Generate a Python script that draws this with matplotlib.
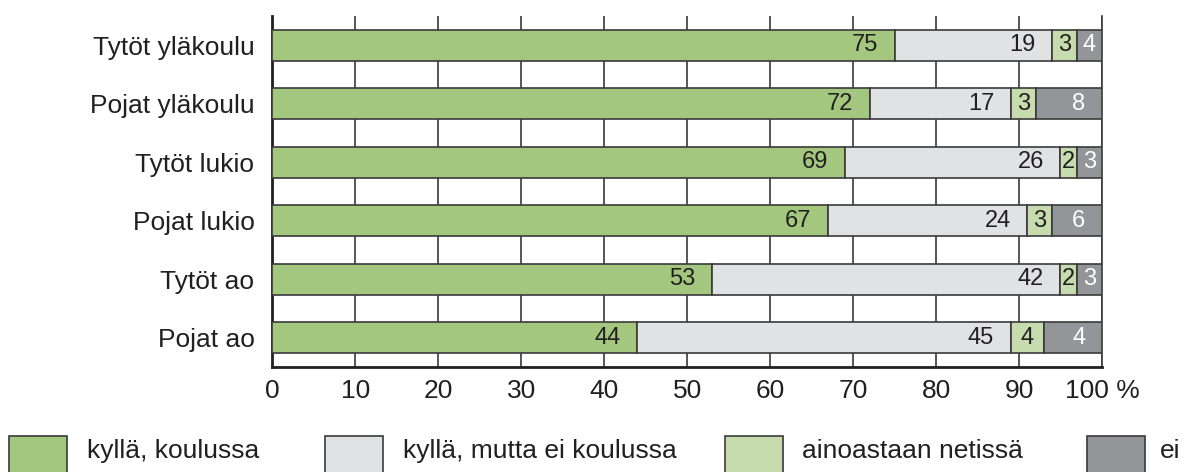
import matplotlib.pyplot as plt
from matplotlib.patches import Rectangle

plt.rcParams['font.family'] = ['Liberation Sans', 'DejaVu Sans']

groups = ["Tytöt yläkoulu", "Pojat yläkoulu", "Tytöt lukio",
          "Pojat lukio", "Tytöt ao", "Pojat ao"]
series = ["kyllä, koulussa", "kyllä, mutta ei koulussa",
          "ainoastaan netissä", "ei"]

koulussa = [75, 72, 69, 67, 53, 44]
ei_koulussa = [19, 17, 26, 24, 42, 45]
netissa = [3, 3, 2, 3, 2, 4]
ei = [4, 8, 3, 6, 3, 4]

colors = ["#a3c77f", "#e1e2e4", "#c6dcae", "#939598"]
text_colors = ["#231f20", "#231f20", "#231f20", "white"]
edge = "#3a3a3a"

fig = plt.figure(figsize=(11.83, 4.72), dpi=100)
ax = fig.add_axes([0.2303, 0.2225, 0.7012, 0.7436])

y = list(range(len(groups)))
left = [0] * len(groups)
for k, vals in enumerate([koulussa, ei_koulussa, netissa, ei]):
    # last segment ("ei") fills the bar up to 100 %
    widths = [100 - l for l in left] if k == 3 else vals
    ax.barh(y, widths, left=left, height=0.53, color=colors[k],
            edgecolor=edge, linewidth=1.2, zorder=3)
    for i in range(len(groups)):
        w = widths[i]
        if w >= 5:
            x, ha = left[i] + w - 2.0, "right"
        else:
            x, ha = left[i] + w / 2, "center"
        ax.text(x, y[i], str(vals[i]), ha=ha, va="center", fontsize=17,
                color=text_colors[k], zorder=4)
    left = [l + w for l, w in zip(left, widths)]

ax.set_xlim(0, 100)
ax.set_ylim(5.5, -0.5)
ax.set_yticks(y)
ax.set_yticklabels(groups)
ax.set_xticks(range(0, 101, 10))
ax.set_xticklabels([str(v) for v in range(0, 100, 10)] + ["100 %"])
ax.tick_params(axis="both", length=0, labelsize=19, colors="#231f20")
ax.tick_params(axis="y", pad=13)
ax.tick_params(axis="x", pad=9)
ax.grid(axis="x", color=edge, linewidth=1.2, zorder=0)
ax.set_axisbelow(True)
ax.spines["top"].set_visible(False)
ax.spines["right"].set_color(edge)
ax.spines["right"].set_linewidth(1.2)
for s in ["left", "bottom"]:
    ax.spines[s].set_color("#231f20")
    ax.spines[s].set_linewidth(2.0)

# legend along the bottom edge
patch_x = [9, 325, 725, 1087]
text_x = [87, 403, 802, 1160]
W, H = 1183, 472
for k, name in enumerate(series):
    fig.add_artist(Rectangle((patch_x[k] / W, (H - 480) / H), 58 / W, 44 / H,
                             transform=fig.transFigure, facecolor=colors[k],
                             edgecolor=edge, linewidth=1.2))
    fig.text(text_x[k] / W, (H - 451) / H, name, ha="left", va="center",
             fontsize=19, color="#231f20")

fig.savefig("out.png", dpi=100)
